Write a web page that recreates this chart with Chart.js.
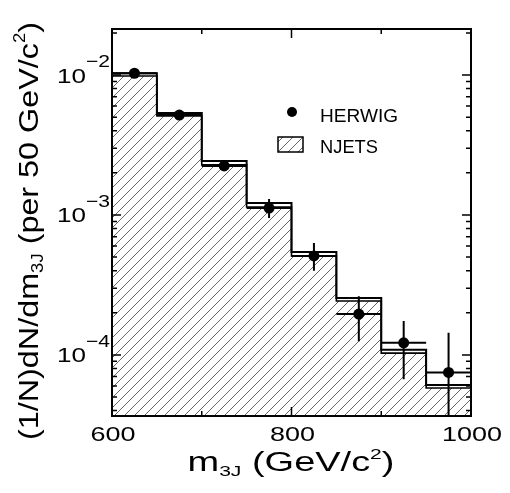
<!DOCTYPE html>
<html>
<head>
<meta charset="utf-8">
<script src="https://cdn.jsdelivr.net/npm/chart.js@4.4.1/dist/chart.umd.min.js"></script>
<style>
html, body { margin: 0; padding: 0; background: #fff; }
canvas { display: block; }
</style>
</head>
<body>
<canvas id="grafica" width="510" height="493"></canvas>
<script>
// Bordes de los bines (GeV/c^2)
var binEdges = [600, 650, 700, 750, 800, 850, 900, 950, 1000];
// NJETS: dos líneas del histograma (superior e inferior)
var njetsUpper = [1.03e-2, 5.35e-3, 2.43e-3, 1.22e-3, 5.44e-4, 2.55e-4, 1.09e-4, 6.1e-5];
var njetsLower = [9.84e-3, 5.10e-3, 2.28e-3, 1.14e-3, 5.10e-4, 2.43e-4, 1.03e-4, 5.8e-5];
// HERWIG: puntos con barras de error
var herwigX = [625, 675, 725, 775, 825, 875, 925, 975];
var herwigY = [1.03e-2, 5.18e-3, 2.24e-3, 1.12e-3, 5.1e-4, 1.96e-4, 1.22e-4, 7.5e-5];
var herwigErrUp = [1.06e-2, 5.35e-3, 2.35e-3, 1.30e-3, 6.3e-4, 2.63e-4, 1.75e-4, 1.44e-4];
var herwigErrDown = [1.0e-2, 5.0e-3, 2.13e-3, 0.95e-3, 4.0e-4, 1.25e-4, 6.7e-5, 2.0e-5];
// Marcas de los ejes
var xTicks = [600, 700, 800, 900, 1000];
var xTickLabels = [600, 800, 1000];
var yTickPowers = [-2, -3, -4];

var FUENTE = '"Liberation Sans", Arial, sans-serif';

// Puntos del histograma escalonado: borde izquierdo de cada bin + último borde
function escalones(valores) {
    var puntos = [];
    for (var i = 0; i < valores.length; i++) {
        puntos.push({ x: binEdges[i], y: valores[i] });
    }
    puntos.push({ x: binEdges[binEdges.length - 1], y: valores[valores.length - 1] });
    return puntos;
}

// Trama de rayas diagonales para el relleno
function crearTrama(ctx) {
    var s = 10;
    var c = document.createElement('canvas');
    c.width = s; c.height = s;
    var g = c.getContext('2d');
    g.strokeStyle = '#555';
    g.lineWidth = 0.9;
    g.beginPath();
    g.moveTo(0, s); g.lineTo(s, 0);
    g.moveTo(-s / 2, s / 2); g.lineTo(s / 2, -s / 2);
    g.moveTo(s / 2, s * 1.5); g.lineTo(s * 1.5, s / 2);
    g.stroke();
    return ctx.createPattern(c, 'repeat');
}

// Texto con partes (subíndices/superíndices) y ancho ajustado
function dibujarTexto(ctx, partes, x, y, alinear, ancho) {
    var total = 0;
    partes.forEach(function (p) {
        ctx.font = p[1] + 'px ' + FUENTE;
        total += ctx.measureText(p[0]).width;
    });
    var sx = ancho ? ancho / total : 1;
    ctx.save();
    ctx.translate(x, y);
    ctx.scale(sx, 1);
    var cx = alinear === 'center' ? -total / 2 : (alinear === 'right' ? -total : 0);
    ctx.textAlign = 'left';
    ctx.textBaseline = 'alphabetic';
    ctx.fillStyle = '#000';
    partes.forEach(function (p) {
        ctx.font = p[1] + 'px ' + FUENTE;
        ctx.fillText(p[0], cx, p[2]);
        cx += ctx.measureText(p[0]).width;
    });
    ctx.restore();
}

var ctx = document.getElementById('grafica').getContext('2d');
var trama = crearTrama(ctx);

var decoracion = {
    id: 'decoracion',
    afterDatasetsDraw: function (chart) {
        var c = chart.ctx, xs = chart.scales.x, ys = chart.scales.y, a = chart.chartArea;
        c.save();
        c.beginPath();
        c.rect(a.left, a.top, a.right - a.left, a.bottom - a.top);
        c.clip();
        c.strokeStyle = '#000';
        c.lineWidth = 2;
        c.beginPath();
        for (var i = 0; i < herwigX.length; i++) {
            var px = xs.getPixelForValue(herwigX[i]);
            c.moveTo(px, ys.getPixelForValue(herwigErrUp[i]));
            c.lineTo(px, ys.getPixelForValue(herwigErrDown[i]));
            var py = ys.getPixelForValue(herwigY[i]);
            c.moveTo(xs.getPixelForValue(binEdges[i]), py);
            c.lineTo(xs.getPixelForValue(binEdges[i + 1]), py);
        }
        c.stroke();
        c.restore();
    },
    afterDraw: function (chart) {
        var c = chart.ctx, xs = chart.scales.x, ys = chart.scales.y, a = chart.chartArea;
        c.save();
        c.strokeStyle = '#000';
        // Marcas hacia dentro
        c.lineWidth = 1.5;
        c.beginPath();
        xTicks.forEach(function (v) {
            var px = xs.getPixelForValue(v);
            var len = xTickLabels.indexOf(v) >= 0 ? 9 : 5;
            c.moveTo(px, a.bottom); c.lineTo(px, a.bottom - len);
            c.moveTo(px, a.top); c.lineTo(px, a.top + len);
        });
        for (var e = -5; e <= -1; e++) {
            for (var m = 1; m <= 9; m++) {
                var v = m * Math.pow(10, e);
                if (v < ys.min || v > ys.max) continue;
                var py = ys.getPixelForValue(v);
                var len = m === 1 ? 9 : 5;
                c.moveTo(a.left, py); c.lineTo(a.left + len, py);
                c.moveTo(a.right, py); c.lineTo(a.right - len, py);
            }
        }
        c.stroke();
        // Marco
        c.lineWidth = 2;
        c.strokeRect(a.left, a.top, a.right - a.left, a.bottom - a.top);

        // Etiquetas del eje x
        xTickLabels.forEach(function (v) {
            dibujarTexto(c, [[String(v), 20, 0]], xs.getPixelForValue(v) + 1, a.bottom + 25, 'center', String(v).length * 15);
        });
        // Etiquetas del eje y
        yTickPowers.forEach(function (p) {
            var py = ys.getPixelForValue(Math.pow(10, p));
            dibujarTexto(c, [['10', 21, 0], ['\u2212' + Math.abs(p), 17, -15.5]], a.left - 2, py + 7.5, 'right', 53);
        });
        // Título del eje x
        dibujarTexto(c, [['m', 27, 0], ['3J', 15, 5], [' (GeV/c', 27, 0], ['2', 15, -12], [')', 27, 0]],
            291, 471, 'center', 207);
        // Título del eje y
        c.save();
        c.translate(38, 231);
        c.rotate(-Math.PI / 2);
        dibujarTexto(c, [['(1/N)dN/dm', 28, 0], ['3J', 16, 5], [' (per 50 GeV/c', 28, 0], ['2', 16, -13], [')', 28, 0]],
            0, 0, 'center', 418);
        c.restore();

        // Leyenda
        c.fillStyle = '#000';
        c.beginPath();
        c.arc(292, 112, 5, 0, Math.PI * 2);
        c.fill();
        dibujarTexto(c, [['HERWIG', 19, 0]], 320, 122, 'left', 78);
        c.fillStyle = trama;
        c.fillRect(278, 137, 25, 15);
        c.lineWidth = 1.5;
        c.strokeRect(278, 137, 25, 15);
        dibujarTexto(c, [['NJETS', 19, 0]], 320, 153, 'left', 58);
        c.restore();
    }
};

var myChart = new Chart(ctx, {
    type: 'line',
    data: {
        datasets: [{
            label: 'HERWIG',
            data: herwigX.map(function (x, i) { return { x: x, y: herwigY[i] }; }),
            showLine: false,
            pointRadius: 5.5,
            pointBackgroundColor: '#000',
            pointBorderWidth: 0
        }, {
            label: 'NJETS sup',
            data: escalones(njetsUpper),
            stepped: 'before',
            borderColor: '#000',
            borderWidth: 2,
            pointRadius: 0,
            fill: false
        }, {
            label: 'NJETS',
            data: escalones(njetsLower),
            stepped: 'before',
            borderColor: '#000',
            borderWidth: 1.6,
            pointRadius: 0,
            backgroundColor: trama,
            fill: 'start'
        }]
    },
    options: {
        responsive: false,
        animation: false,
        devicePixelRatio: 1,
        layout: { padding: { left: 112, top: 29, right: 39, bottom: 77 } },
        plugins: { legend: { display: false }, tooltip: { enabled: false } },
        scales: {
            x: { type: 'linear', min: 600, max: 1000, display: false },
            y: { type: 'logarithmic', min: 3.66e-5, max: 2.133e-2, display: false }
        }
    },
    plugins: [decoracion]
});
</script>
</body>
</html>
